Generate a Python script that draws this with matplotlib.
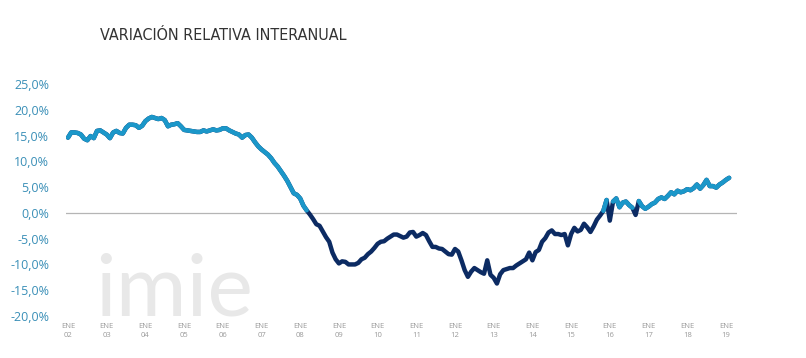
import matplotlib

matplotlib.use("Agg")

import matplotlib.pyplot as plt
import numpy as np
from matplotlib import font_manager

# monthly year-on-year change (%), Jan 2002 - Feb 2019
y2002 = [14.6, 15.6, 15.6, 15.5, 15.2, 14.4, 14.1, 14.9, 14.5, 15.9, 16.0, 15.6]
y2003 = [15.2, 14.5, 15.6, 15.9, 15.5, 15.4, 16.5, 17.1, 17.1, 17.0, 16.5, 16.9]
y2004 = [17.8, 18.3, 18.6, 18.4, 18.2, 18.4, 18.0, 16.8, 17.1, 17.2, 17.4, 16.8]
y2005 = [16.1, 16.0, 15.9, 15.8, 15.7, 15.7, 16.0, 15.8, 16.0, 16.2, 16.0, 16.1]
y2006 = [16.4, 16.4, 16.0, 15.7, 15.4, 15.2, 14.6, 15.1, 15.2, 14.6, 13.7, 12.9]
y2007 = [12.3, 11.8, 11.3, 10.6, 9.7, 9.0, 8.1, 7.2, 6.2, 5.0, 3.8, 3.5]
y2008 = [2.8, 1.4, 0.5, -0.3, -1.2, -2.2, -2.5, -3.6, -4.7, -5.6, -7.7, -9.0]
y2009 = [-9.8, -9.4, -9.5, -10.0, -10.0, -10.0, -9.7, -9.0, -8.7, -8.0, -7.5, -6.8]
y2010 = [-6.0, -5.6, -5.5, -5.0, -4.6, -4.2, -4.2, -4.5, -4.8, -4.6, -3.8, -3.7]
y2011 = [-4.6, -4.3, -3.9, -4.3, -5.5, -6.6, -6.6, -6.9, -7.0, -7.5, -8.0, -8.1]
y2012 = [-7.0, -7.5, -9.2, -11.1, -12.4, -11.4, -10.7, -11.1, -11.5, -11.8, -9.2, -12.0]
y2013 = [-12.6, -13.7, -11.9, -11.1, -10.9, -10.7, -10.7, -10.2, -9.8, -9.4, -9.0, -7.7]
y2014 = [-9.2, -7.6, -7.2, -5.6, -4.9, -3.8, -3.4, -4.1, -4.1, -4.3, -4.1, -6.3]
y2015 = [-4.1, -2.9, -3.6, -3.3, -2.1, -2.8, -3.7, -2.6, -1.3, -0.5, 0.4, 2.5]
y2016 = [-1.5, 2.2, 2.8, 1.1, 2.0, 2.2, 1.5, 1.0, -0.4, 2.3, 1.3, 0.8]
y2017 = [1.2, 1.7, 2.0, 2.7, 3.0, 2.7, 3.3, 4.0, 3.6, 4.3, 4.0, 4.2]
y2018 = [4.6, 4.4, 4.8, 5.5, 4.7, 5.4, 6.4, 5.2, 5.2, 4.9, 5.5, 5.9]
y2019 = [6.4, 6.8]

years = list(range(2002, 2020))
year_labels = [f"ENE\n{y % 100:02d}" for y in years]
y_ticks = [25, 20, 15, 10, 5, 0, -5, -10, -15, -20]

values = np.array(y2002 + y2003 + y2004 + y2005 + y2006 + y2007 + y2008 + y2009
                  + y2010 + y2011 + y2012 + y2013 + y2014 + y2015 + y2016
                  + y2017 + y2018 + y2019)
months = np.arange(len(values))

LIGHT = "#1b97c9"
DARK = "#0c2b63"

# narrow face for the title if one is installed
names = {f.name for f in font_manager.fontManager.ttflist}
title_font = {"family": "DejaVu Sans", "stretch": "condensed"}
for cand in ["Liberation Sans Narrow", "DejaVu Sans Condensed"]:
    if cand in names:
        title_font = {"family": cand}
        break

fig = plt.figure(figsize=(8.06, 3.58), dpi=100)
ax = fig.add_axes([66 / 806, 42 / 358, 671 / 806, 232 / 358])

ax.axhline(0, color="#b5b5b5", lw=0.9, zorder=1)

# dark line everywhere, light overlay where the change is positive
ax.plot(months, values, color=DARK, lw=3.2, solid_joinstyle="round",
        solid_capstyle="round", zorder=2)
ax.plot(months, np.ma.masked_where(values < 0, values), color=LIGHT, lw=3.2,
        solid_joinstyle="round", solid_capstyle="round", zorder=3)

ax.set_xlim(-0.62, 207.44)
ax.set_ylim(-20, 25)

ax.set_xticks([(y - 2002) * 12 for y in years])
ax.set_xticklabels(year_labels, fontsize=5.5, color="#9a9a9a",
                   family="Open Sans", linespacing=1.5)
ax.set_yticks(y_ticks)
ax.set_yticklabels([f"{t:.1f}%".replace(".", ",") for t in y_ticks],
                   fontsize=9, color="#3a8fb7", family="Open Sans")
ax.tick_params(axis="both", length=0)
ax.tick_params(axis="x", pad=5)
ax.tick_params(axis="y", pad=12)
for s in ax.spines.values():
    s.set_visible(False)

# watermark
ax.text(0.043, 0.0, "imie", transform=ax.transAxes, fontsize=62,
        family="Lato", weight="normal", color="#e8e8e8", ha="left",
        va="baseline", zorder=0)

fig.text(100 / 806, 1 - 35 / 358, "VARIACIÓN RELATIVA INTERANUAL",
         fontsize=11.5, color="#333333", ha="left", va="center", **title_font)

fig.savefig("out.png", dpi=100)
